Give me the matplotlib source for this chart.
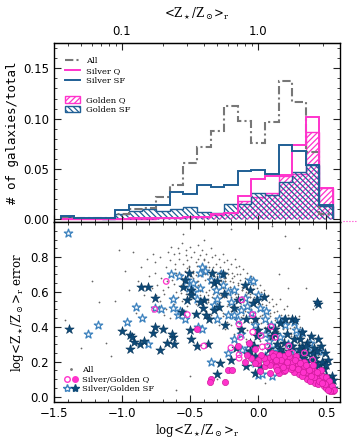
import numpy as np
import matplotlib
matplotlib.use("Agg")
import matplotlib.pyplot as plt
from matplotlib.lines import Line2D
from matplotlib.patches import Patch
from matplotlib.legend_handler import HandlerTuple

plt.rcParams['mathtext.fontset'] = 'dejavuserif'
plt.rcParams['hatch.linewidth'] = 0.9

PINK = '#ff33cc'
BLUE = '#1f5f95'
DARK = '#0d4a78'
LBLUE = '#3a80bd'
GRAY = '#777777'

# ---- histogram data (fraction of total, bins of 0.1 dex) ----
bin_edges = np.round(np.arange(-1.45, 0.56, 0.1), 2)
all_frac = [0.001, 0.001, 0.001, 0.001, 0.005, 0.010, 0.011, 0.022, 0.034, 0.056,
            0.072, 0.088, 0.113, 0.098, 0.076, 0.097, 0.137, 0.117, 0.067, 0.005]
silver_q = [0, 0, 0, 0, 0, 0.001, 0.001, 0.001, 0.001, 0.002,
            0.002, 0.005, 0.006, 0.023, 0.040, 0.043, 0.044, 0.074, 0.102, 0.031]
silver_sf = [0.003, 0.001, 0.001, 0.001, 0.009, 0.014, 0.014, 0.014, 0.027, 0.025,
             0.034, 0.032, 0.034, 0.048, 0.049, 0.045, 0.074, 0.068, 0.054, 0.014]
golden_q = [0, 0, 0, 0, 0, 0, 0, 0.001, 0.001, 0.002,
            0.002, 0.004, 0.006, 0.018, 0.022, 0.026, 0.043, 0.045, 0.087, 0.031]
golden_sf = [0.002, 0.001, 0.001, 0.0, 0.005, 0.008, 0.010, 0.008, 0.010, 0.012,
             0.007, 0.006, 0.015, 0.015, 0.026, 0.024, 0.037, 0.047, 0.054, 0.013]

# ---- scatter data (log Z, error) ----
gray_pts = [
    (-1.42, 0.44), (-1.30, 0.28), (-1.22, 0.66), (-1.17, 0.54), (-1.12, 0.31), (-1.05, 0.55),
    (-1.02, 0.84), (-0.98, 0.72), (-0.95, 0.61), (-0.92, 0.83), (-0.90, 0.48), (-0.88, 0.66),
    (-0.86, 0.74), (-0.84, 0.58), (-0.82, 0.79), (-0.80, 0.69), (-0.78, 0.62), (-0.77, 0.82),
    (-1.08, 0.23), (-0.60, 0.04), (-0.50, 0.12), (-0.30, 0.10), (-0.10, 0.20), (0.05, 0.08),
    (0.20, 0.92), (0.10, 0.98), (-0.20, 0.96), (0.30, 0.85), (-0.05, 0.18), (-0.55, 0.93),
    (-0.40, 0.90), (0.15, 0.70), (0.35, 0.62), (0.40, 0.50), (0.22, 0.62),
    (-0.76, 0.71), (-0.74, 0.64), (-0.75, 0.58), (-0.73, 0.52), (-0.76, 0.77),
    (-0.72, 0.80), (-0.71, 0.68), (-0.70, 0.61), (-0.72, 0.55), (-0.69, 0.47),
    (-0.68, 0.74), (-0.67, 0.66), (-0.69, 0.59), (-0.66, 0.83), (-0.68, 0.50),
    (-0.65, 0.78), (-0.64, 0.70), (-0.66, 0.63), (-0.63, 0.57), (-0.65, 0.45), (-0.64, 0.86),
    (-0.62, 0.82), (-0.61, 0.73), (-0.63, 0.67), (-0.60, 0.60), (-0.62, 0.53), (-0.61, 0.76),
    (-0.59, 0.85), (-0.58, 0.79), (-0.60, 0.71), (-0.57, 0.64), (-0.59, 0.57), (-0.58, 0.49), (-0.56, 0.68),
    (-0.56, 0.88), (-0.55, 0.76), (-0.57, 0.70), (-0.54, 0.62), (-0.56, 0.55), (-0.53, 0.81), (-0.55, 0.66),
    (-0.53, 0.84), (-0.52, 0.78), (-0.54, 0.72), (-0.51, 0.65), (-0.53, 0.59), (-0.52, 0.52), (-0.50, 0.69),
    (-0.51, 0.75), (-0.50, 0.86), (-0.49, 0.80), (-0.51, 0.74), (-0.48, 0.68), (-0.50, 0.61), (-0.49, 0.56),
    (-0.47, 0.47), (-0.48, 0.71), (-0.47, 0.83), (-0.46, 0.77), (-0.48, 0.72), (-0.45, 0.66), (-0.47, 0.60),
    (-0.46, 0.53), (-0.44, 0.79), (-0.45, 0.63), (-0.44, 0.87), (-0.43, 0.81), (-0.45, 0.75), (-0.42, 0.69),
    (-0.44, 0.64), (-0.43, 0.58), (-0.41, 0.51), (-0.42, 0.72), (-0.44, 0.66),
    (-0.41, 0.84), (-0.40, 0.79), (-0.42, 0.73), (-0.39, 0.67), (-0.41, 0.62), (-0.40, 0.56), (-0.38, 0.49),
    (-0.39, 0.70), (-0.41, 0.76), (-0.38, 0.82), (-0.37, 0.77), (-0.39, 0.71), (-0.36, 0.65), (-0.38, 0.60),
    (-0.37, 0.54), (-0.35, 0.47), (-0.36, 0.68), (-0.38, 0.74), (-0.37, 0.58),
    (-0.35, 0.85), (-0.34, 0.80), (-0.36, 0.74), (-0.33, 0.69), (-0.35, 0.63), (-0.34, 0.57), (-0.32, 0.52),
    (-0.35, 0.45), (-0.33, 0.66), (-0.36, 0.61), (-0.32, 0.81), (-0.31, 0.76), (-0.33, 0.72), (-0.30, 0.67),
    (-0.32, 0.62), (-0.31, 0.56), (-0.29, 0.50), (-0.32, 0.43), (-0.30, 0.70), (-0.33, 0.59),
    (-0.29, 0.79), (-0.28, 0.74), (-0.30, 0.69), (-0.27, 0.64), (-0.29, 0.59), (-0.28, 0.54), (-0.26, 0.48),
    (-0.29, 0.41), (-0.27, 0.66), (-0.30, 0.61), (-0.28, 0.72),
    (-0.26, 0.82), (-0.25, 0.77), (-0.27, 0.71), (-0.24, 0.66), (-0.26, 0.62), (-0.25, 0.57), (-0.23, 0.52),
    (-0.26, 0.46), (-0.24, 0.39), (-0.27, 0.64), (-0.25, 0.68),
    (-0.23, 0.78), (-0.22, 0.73), (-0.24, 0.68), (-0.21, 0.63), (-0.23, 0.58), (-0.22, 0.53), (-0.20, 0.49),
    (-0.23, 0.43), (-0.21, 0.60), (-0.24, 0.66), (-0.22, 0.70),
    (-0.20, 0.76), (-0.19, 0.71), (-0.21, 0.66), (-0.18, 0.61), (-0.20, 0.57), (-0.19, 0.52), (-0.17, 0.47),
    (-0.20, 0.41), (-0.18, 0.36), (-0.21, 0.63), (-0.19, 0.68),
    (-0.17, 0.79), (-0.16, 0.74), (-0.18, 0.69), (-0.15, 0.64), (-0.17, 0.59), (-0.16, 0.55), (-0.14, 0.50),
    (-0.17, 0.45), (-0.15, 0.39), (-0.18, 0.62), (-0.16, 0.57),
    (-0.14, 0.75), (-0.13, 0.70), (-0.15, 0.65), (-0.12, 0.61), (-0.14, 0.56), (-0.13, 0.52), (-0.11, 0.47),
    (-0.14, 0.42), (-0.12, 0.37), (-0.15, 0.59), (-0.13, 0.67),
    (-0.11, 0.73), (-0.10, 0.68), (-0.12, 0.63), (-0.09, 0.58), (-0.11, 0.54), (-0.10, 0.49), (-0.08, 0.44),
    (-0.11, 0.39), (-0.09, 0.33), (-0.12, 0.61), (-0.10, 0.56),
    (-0.08, 0.71), (-0.07, 0.66), (-0.09, 0.62), (-0.06, 0.57), (-0.08, 0.52), (-0.07, 0.48), (-0.05, 0.43),
    (-0.08, 0.38), (-0.06, 0.32), (-0.09, 0.60), (-0.07, 0.54),
    (-0.05, 0.69), (-0.04, 0.64), (-0.06, 0.59), (-0.03, 0.55), (-0.05, 0.50), (-0.04, 0.46), (-0.02, 0.41),
    (-0.05, 0.36), (-0.03, 0.30), (-0.06, 0.57),
    (-0.02, 0.67), (-0.01, 0.62), (-0.03, 0.57), (0.00, 0.53), (-0.02, 0.48), (-0.01, 0.44), (0.01, 0.39),
    (-0.02, 0.34), (0.00, 0.29), (-0.03, 0.55),
    (0.01, 0.64), (0.02, 0.60), (0.00, 0.55), (0.03, 0.51), (0.01, 0.46), (0.02, 0.42), (0.04, 0.37),
    (0.01, 0.32), (0.03, 0.27), (0.00, 0.49),
    (0.04, 0.61), (0.05, 0.57), (0.03, 0.53), (0.06, 0.48), (0.04, 0.44), (0.05, 0.40), (0.07, 0.35),
    (0.04, 0.30), (0.06, 0.25),
    (0.07, 0.58), (0.08, 0.54), (0.06, 0.50), (0.09, 0.46), (0.07, 0.42), (0.08, 0.38), (0.10, 0.33),
    (0.07, 0.28), (0.09, 0.24),
    (0.10, 0.56), (0.11, 0.52), (0.09, 0.48), (0.12, 0.44), (0.10, 0.40), (0.11, 0.36), (0.13, 0.31), (0.10, 0.26),
    (0.13, 0.53), (0.14, 0.49), (0.12, 0.45), (0.15, 0.41), (0.13, 0.37), (0.14, 0.33), (0.16, 0.29), (0.13, 0.24),
    (0.16, 0.56), (0.17, 0.47), (0.15, 0.43), (0.18, 0.39), (0.16, 0.35), (0.17, 0.31), (0.19, 0.27), (0.16, 0.22),
    (0.19, 0.50), (0.20, 0.45), (0.18, 0.41), (0.21, 0.37), (0.19, 0.33), (0.20, 0.29), (0.22, 0.25),
    (0.22, 0.47), (0.23, 0.43), (0.21, 0.39), (0.24, 0.35), (0.22, 0.31), (0.23, 0.27), (0.25, 0.23), (0.21, 0.52),
    (0.25, 0.45), (0.26, 0.40), (0.24, 0.36), (0.27, 0.32), (0.25, 0.28), (0.26, 0.24), (0.28, 0.21),
    (0.28, 0.42), (0.29, 0.38), (0.27, 0.34), (0.30, 0.30), (0.28, 0.26), (0.29, 0.22),
    (0.31, 0.40), (0.32, 0.35), (0.30, 0.31), (0.33, 0.27), (0.31, 0.23), (0.32, 0.19), (0.30, 0.46),
    (0.34, 0.37), (0.35, 0.32), (0.33, 0.28), (0.36, 0.24), (0.34, 0.20),
    (0.37, 0.34), (0.38, 0.30), (0.36, 0.26), (0.39, 0.22), (0.37, 0.18),
    (0.40, 0.31), (0.41, 0.27), (0.39, 0.23), (0.42, 0.19),
    (0.43, 0.28), (0.44, 0.24), (0.42, 0.20), (0.45, 0.16),
    (0.46, 0.25), (0.47, 0.21), (0.45, 0.17), (0.49, 0.21), (0.50, 0.17), (0.48, 0.13),
    (-0.455, 0.695), (-0.425, 0.605), (-0.395, 0.785), (-0.365, 0.555), (-0.335, 0.745), (-0.305, 0.535),
    (-0.275, 0.585), (-0.245, 0.715), (-0.215, 0.545), (-0.185, 0.655), (-0.155, 0.705), (-0.125, 0.455),
    (-0.095, 0.645), (-0.065, 0.505), (-0.035, 0.615), (-0.005, 0.585), (0.025, 0.465), (0.055, 0.525),
    (0.085, 0.415), (0.115, 0.485), (0.145, 0.375), (0.175, 0.435), (0.205, 0.345), (0.235, 0.395),
    (-0.525, 0.735), (-0.495, 0.645), (-0.565, 0.595), (-0.615, 0.645), (-0.585, 0.825), (-0.355, 0.705),
]

silver_sf_pts = [
    (-1.40, 0.94), (-1.25, 0.36), (-1.175, 0.41), (-0.96, 0.43), (-0.90, 0.515), (-0.85, 0.45),
    (-0.81, 0.30), (-0.755, 0.51), (-0.71, 0.50), (-0.625, 0.505), (-0.59, 0.466), (-0.575, 0.49),
    (-0.54, 0.447), (-0.51, 0.62), (-0.43, 0.62), (-0.41, 0.74), (-0.39, 0.72), (-0.35, 0.67),
    (-0.31, 0.61), (-0.275, 0.70), (-0.175, 0.61), (-0.20, 0.54), (-0.125, 0.495), (-0.325, 0.525),
    (-0.30, 0.447), (-0.44, 0.40), (-0.41, 0.39), (-0.625, 0.56), (-0.64, 0.70), (-0.58, 0.69),
    (-0.525, 0.67), (-0.475, 0.65), (-0.425, 0.71), (-0.30, 0.56), (-0.225, 0.466), (-0.175, 0.466),
    (-0.15, 0.437), (-0.10, 0.563), (-0.06, 0.67), (-0.04, 0.66), (0.0, 0.58), (0.01, 0.51),
    (0.05, 0.447), (0.06, 0.49), (0.095, 0.41), (0.15, 0.447), (0.20, 0.41), (0.275, 0.38),
    (0.325, 0.37), (0.26, 0.43), (0.19, 0.437), (-0.025, 0.41), (-0.125, 0.36), (-0.175, 0.33),
    (-0.075, 0.28), (-0.025, 0.19), (0.0, 0.126), (0.025, 0.13), (-0.35, 0.20), (-0.225, 0.25),
    (-0.12, 0.266), (0.24, 0.29), (0.30, 0.35), (0.375, 0.26), (0.45, 0.26), (0.15, 0.18),
    (0.10, 0.117), (0.05, 0.233), (0.16, 0.34), (0.30, 0.22), (0.35, 0.20), (0.42, 0.17),
    (0.47, 0.12), (0.22, 0.30), (0.12, 0.28), (0.08, 0.32), (0.27, 0.25), (0.38, 0.31),
    (0.05, 0.36), (-0.05, 0.48), (-0.08, 0.52), (-0.22, 0.60), (-0.26, 0.64), (-0.45, 0.56),
    (-0.48, 0.60),
]

golden_sf_pts = [
    (-1.39, 0.39), (-0.86, 0.63), (-0.81, 0.627), (-0.755, 0.563), (-1.0, 0.375), (-0.94, 0.353),
    (-0.91, 0.315), (-0.925, 0.34), (-0.87, 0.30), (-0.94, 0.275), (-0.84, 0.32), (-0.76, 0.40),
    (-0.70, 0.39), (-0.77, 0.365), (-0.72, 0.265), (-0.67, 0.31), (-0.625, 0.34), (-0.62, 0.30),
    (-0.63, 0.36), (-0.555, 0.63), (-0.54, 0.666), (-0.51, 0.71), (-0.49, 0.61), (-0.50, 0.38),
    (-0.49, 0.33), (-0.45, 0.29), (-0.37, 0.30), (-0.38, 0.466), (-0.46, 0.475), (-0.56, 0.485),
    (-0.395, 0.553), (-0.34, 0.71), (-0.325, 0.65), (-0.30, 0.66), (-0.29, 0.515), (-0.26, 0.70),
    (-0.245, 0.41), (-0.28, 0.194), (-0.20, 0.21), (-0.16, 0.28), (-0.125, 0.39), (-0.09, 0.447),
    (-0.06, 0.31), (-0.075, 0.243), (-0.03, 0.29), (-0.01, 0.35), (0.0, 0.38), (-0.025, 0.447),
    (-0.04, 0.534), (-0.01, 0.553), (0.04, 0.57), (0.075, 0.39), (0.10, 0.35), (0.125, 0.39),
    (0.16, 0.42), (0.20, 0.447), (0.25, 0.447), (0.27, 0.44), (0.325, 0.37), (0.36, 0.31),
    (0.39, 0.35), (0.44, 0.33), (0.46, 0.29), (0.49, 0.25), (0.51, 0.21), (0.44, 0.53),
    (0.43, 0.54), (0.54, 0.117), (0.55, 0.097), (0.25, 0.29), (0.275, 0.233), (0.325, 0.25),
    (0.40, 0.25), (0.05, 0.223), (0.0125, 0.175), (-0.025, 0.136), (0.16, 0.27), (0.19, 0.31),
    (0.39, 0.155), (0.275, 0.175), (-0.10, 0.64), (-0.06, 0.61), (-0.145, 0.553), (-0.175, 0.505),
    (-0.25, 0.59), (-0.325, 0.495), (-0.425, 0.544), (-0.525, 0.553), (-0.49, 0.58), (-0.405, 0.51),
    (-0.36, 0.447), (0.325, 0.29), (0.41, 0.194), (0.475, 0.194), (0.20, 0.21), (0.11, 0.233),
    (-0.025, 0.233), (-0.06, 0.262), (-0.09, 0.175), (-0.305, 0.13),
    (0.30, 0.27), (0.33, 0.22), (0.36, 0.25), (0.38, 0.21), (0.42, 0.22), (0.44, 0.18),
    (0.46, 0.15), (0.48, 0.16), (0.50, 0.12), (0.52, 0.10), (0.31, 0.33), (0.35, 0.29),
    (0.41, 0.28), (0.23, 0.26), (0.26, 0.33), (0.21, 0.36), (0.18, 0.25), (0.14, 0.30),
    (0.08, 0.27), (0.12, 0.36), (0.29, 0.19), (0.43, 0.26), (0.47, 0.20), (0.50, 0.18),
    (0.53, 0.07), (0.55, 0.05),
]

silver_q_pts = [
    (-0.675, 0.66), (-0.76, 0.50), (-0.52, 0.47), (-0.40, 0.29), (-0.20, 0.28), (-0.14, 0.24),
    (-0.14, 0.22), (-0.12, 0.555), (-0.14, 0.415), (-0.13, 0.34), (-0.04, 0.47), (-0.04, 0.37),
    (0.02, 0.35), (0.03, 0.285), (0.095, 0.40), (0.125, 0.34), (0.20, 0.23), (0.25, 0.25),
    (0.225, 0.29), (0.34, 0.25), (0.40, 0.21), (0.30, 0.20), (0.45, 0.12), (0.15, 0.22),
    (0.07, 0.29), (0.35, 0.16),
]

golden_q_pts = [
    (-0.45, 0.385), (-0.35, 0.10), (-0.355, 0.085), (-0.24, 0.085), (-0.22, 0.155), (-0.19, 0.155),
    (-0.15, 0.29), (-0.07, 0.31), (-0.025, 0.27), (0.0, 0.19), (0.01, 0.146), (0.05, 0.175),
    (0.075, 0.194), (0.09, 0.136), (0.10, 0.25), (0.125, 0.243), (0.15, 0.136), (0.19, 0.146),
    (0.08, 0.22), (0.10, 0.20), (0.12, 0.21), (0.14, 0.19), (0.16, 0.22), (0.18, 0.20),
    (0.20, 0.22), (0.22, 0.19), (0.24, 0.21), (0.26, 0.18), (0.28, 0.20), (0.30, 0.17),
    (0.32, 0.19), (0.34, 0.16), (0.36, 0.17), (0.38, 0.14), (0.40, 0.15), (0.42, 0.12),
    (0.44, 0.13), (0.46, 0.10), (0.48, 0.10), (0.50, 0.07), (0.52, 0.06), (0.54, 0.04),
    (0.55, 0.03), (0.53, 0.05), (0.51, 0.08), (0.49, 0.08), (0.47, 0.12), (0.45, 0.14),
    (0.43, 0.10), (0.41, 0.13), (0.39, 0.16), (0.37, 0.12), (0.35, 0.14), (0.33, 0.17),
    (0.31, 0.15), (0.29, 0.18), (0.27, 0.16), (0.25, 0.19), (0.23, 0.23), (0.21, 0.17),
    (0.19, 0.23), (0.17, 0.18), (0.15, 0.24), (0.13, 0.17), (0.11, 0.23), (0.09, 0.18),
    (0.06, 0.20), (0.04, 0.22), (0.22, 0.25), (0.28, 0.23), (0.34, 0.20), (0.40, 0.18),
    (0.46, 0.15), (0.50, 0.11), (0.52, 0.09), (0.54, 0.06), (0.56, 0.04), (0.30, 0.13),
    (0.36, 0.10), (0.42, 0.08), (0.48, 0.06), (0.26, 0.14), (0.20, 0.15), (0.14, 0.15),
    (0.24, 0.16), (0.32, 0.12), (0.38, 0.09), (0.44, 0.07), (0.50, 0.05), (0.18, 0.17),
    (0.02, 0.24), (-0.05, 0.22), (-0.10, 0.20), (0.0, 0.21), (-0.02, 0.19), (-0.08, 0.24),
    (0.17, 0.21), (0.21, 0.20), (0.25, 0.17), (0.29, 0.16), (0.33, 0.14), (0.37, 0.15),
    (0.41, 0.11), (0.45, 0.09), (0.49, 0.07), (0.53, 0.03), (0.27, 0.21), (0.31, 0.19),
    (0.35, 0.18), (0.39, 0.12), (0.43, 0.14), (0.47, 0.08), (0.51, 0.04), (0.13, 0.21),
]

gray_x, gray_y = np.array(gray_pts).T
ssf_x, ssf_y = np.array(silver_sf_pts).T
gsf_x, gsf_y = np.array(golden_sf_pts).T
sq_x, sq_y = np.array(silver_q_pts).T
gq_x, gq_y = np.array(golden_q_pts).T

fig = plt.figure(figsize=(3.57, 4.46), dpi=100)
ax1 = fig.add_axes([0.151, 0.502, 0.801, 0.401])
ax2 = fig.add_axes([0.151, 0.099, 0.801, 0.403])

tickfont = {'family': 'DejaVu Sans', 'size': 8.5}

# ---------------- top panel ----------------
ax1.stairs(golden_q, bin_edges, fill=True, facecolor='none', edgecolor=PINK,
           hatch='//////', linewidth=1.0)
ax1.stairs(golden_sf, bin_edges, fill=True, facecolor='none', edgecolor=BLUE,
           hatch='\\\\\\\\\\\\', linewidth=1.0)
ax1.stairs(all_frac, bin_edges, color=GRAY, linewidth=1.5,
           linestyle=(0, (4, 1.5, 1, 1.5)))
ax1.stairs(silver_q, bin_edges, color=PINK, linewidth=1.4)
ax1.stairs(silver_sf, bin_edges, color=BLUE, linewidth=1.4)
ax1.plot([0.62, 0.76], [-0.002, -0.002], color=PINK, linestyle=':', linewidth=0.8, clip_on=False)

ax1.set_xlim(-1.5, 0.6)
ax1.set_ylim(-0.003, 0.175)
ax1.set_xticks([-1.5, -1.0, -0.5, 0.0, 0.5])
ax1.set_xticklabels([])
ax1.set_xticks(np.arange(-1.5, 0.61, 0.1), minor=True)
ax1.set_yticks([0.0, 0.05, 0.10, 0.15])
ax1.set_yticklabels(['0.00', '0.05', '0.10', '0.15'], fontdict=tickfont)
ax1.set_yticks(np.arange(0, 0.176, 0.01), minor=True)
ax1.tick_params(which='both', direction='in', top=False, right=True, bottom=True, color='#222222')
ax1.tick_params(which='major', length=5, width=0.8)
ax1.tick_params(which='minor', length=2.5, width=0.6)
ax1.set_ylabel('# of galaxies/total', family='DejaVu Sans Mono', fontsize=9, labelpad=3)

top = ax1.secondary_xaxis('top', functions=(lambda v: 10 ** v, np.log10))
top.set_xticks([0.1, 1.0])
top.set_xticklabels(['0.1', '1.0'], fontdict=tickfont)
top.set_xticks([0.04, 0.05, 0.06, 0.07, 0.08, 0.09, 0.2, 0.3, 0.4, 0.5, 0.6, 0.7, 0.8, 0.9, 2, 3],
               minor=True)
top.tick_params(which='both', direction='in', color='#222222')
top.tick_params(which='major', length=5, width=0.8)
top.tick_params(which='minor', length=2.5, width=0.6)
top.set_xlabel(r'<Z$_\star$/Z$_\odot$>$_{\rm r}$', family='DejaVu Serif', fontsize=8.5, labelpad=6)

h1 = [Line2D([], [], color=GRAY, lw=1.5, linestyle=(0, (4, 1.5, 1, 1.5))),
      Line2D([], [], color=PINK, lw=1.4),
      Line2D([], [], color=BLUE, lw=1.4),
      Line2D([], [], color='none'),
      Patch(facecolor='none', edgecolor=PINK, hatch='//////'),
      Patch(facecolor='none', edgecolor=BLUE, hatch='\\\\\\\\\\\\')]
ax1.legend(h1, ['All', 'Silver Q', 'Silver SF', '', 'Golden Q', 'Golden SF'],
           loc='upper left', bbox_to_anchor=(0.02, 0.95), frameon=False,
           prop={'family': 'DejaVu Serif', 'size': 6}, handlelength=1.8, handleheight=0.8,
           labelspacing=0.2, handletextpad=0.8, borderaxespad=0.2)

# ---------------- bottom panel ----------------
ax2.scatter(gray_x, gray_y, s=1.6, color='#666666', linewidths=0)
ax2.scatter(ssf_x, ssf_y, s=40, marker='*', facecolors='white', edgecolors=LBLUE, linewidths=0.9)
ax2.scatter(gsf_x, gsf_y, s=50, marker='*', facecolors=DARK, edgecolors='#08355a', linewidths=0.4)
ax2.scatter(sq_x, sq_y, s=16, marker='o', facecolors='none', edgecolors=PINK, linewidths=0.9)
ax2.scatter(gq_x, gq_y, s=20, marker='o', facecolors=PINK, edgecolors='#d01c9c', linewidths=0.5)

ax2.set_xlim(-1.5, 0.6)
ax2.set_ylim(-0.03, 1.0)
ax2.set_xticks([-1.5, -1.0, -0.5, 0.0, 0.5])
ax2.set_xticklabels(['\u22121.5', '\u22121.0', '\u22120.5', '0.0', '0.5'], fontdict=tickfont)
ax2.set_xticks(np.arange(-1.5, 0.61, 0.1), minor=True)
ax2.set_yticks([0.0, 0.2, 0.4, 0.6, 0.8])
ax2.set_yticklabels(['0.0', '0.2', '0.4', '0.6', '0.8'], fontdict=tickfont)
ax2.set_yticks(np.arange(0, 1.0, 0.05), minor=True)
ax2.tick_params(which='both', direction='in', top=True, right=True, color='#222222')
ax2.tick_params(which='major', length=5, width=0.8)
ax2.tick_params(which='minor', length=2.5, width=0.6)
ax2.set_xlabel(r'log<Z$_\star$/Z$_\odot$>$_{\rm r}$', family='DejaVu Serif', fontsize=8.5, labelpad=2)
ax2.set_ylabel(r'log<Z$_\star$/Z$_\odot$>$_{\rm r}$ error', family='DejaVu Serif', fontsize=8.5, labelpad=3)

h2 = [Line2D([], [], marker='.', color=GRAY, ls='none', markersize=2),
      (Line2D([], [], marker='o', ls='none', mfc='none', mec=PINK, markersize=4),
       Line2D([], [], marker='o', ls='none', mfc=PINK, mec=PINK, markersize=4)),
      (Line2D([], [], marker='*', ls='none', mfc='white', mec=LBLUE, markersize=6),
       Line2D([], [], marker='*', ls='none', mfc=DARK, mec=DARK, markersize=6))]
ax2.legend(h2, ['All', 'Silver/Golden Q', 'Silver/Golden SF'], loc='lower left',
           bbox_to_anchor=(0.02, 0.02), frameon=False,
           prop={'family': 'DejaVu Serif', 'size': 6},
           handler_map={tuple: HandlerTuple(ndivide=None, pad=0.3)},
           handlelength=1.6, labelspacing=0.2, handletextpad=0.5, borderaxespad=0.2)

for ax in (ax1, ax2):
    for s in ax.spines.values():
        s.set_linewidth(1.0)

fig.savefig('out.png', dpi=100)
